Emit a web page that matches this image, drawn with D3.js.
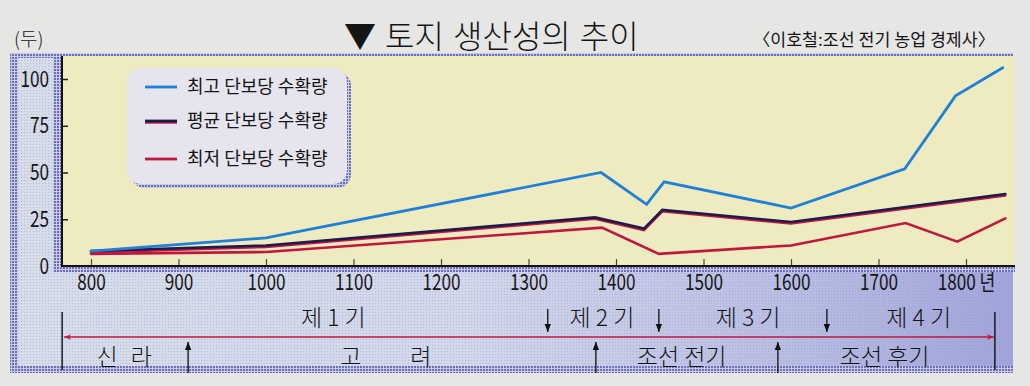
<!DOCTYPE html>
<html>
<head>
<meta charset="utf-8">
<script src="https://cdn.jsdelivr.net/npm/d3@7"></script>
<style>
	body { margin: 0; background: #e6e6e4; }
	svg { display: block; }
	text { font-family: 'Noto Sans CJK KR', 'Noto Sans', sans-serif; fill: #151515; }
</style>
</head>
<body>
<div id="chart"></div>
<script>
// ---- data ----
var highYears = [800, 1000, 1383, 1435, 1455, 1600, 1730, 1788, 1842];
var highValues = [8, 15, 50, 33, 45, 31, 52, 91, 106];
var avgYears = [800, 1000, 1376, 1432, 1453, 1600, 1845];
var avgValues = [8, 11, 26, 20, 30, 23.5, 38.5];
var lowYears = [800, 1000, 1384, 1449, 1600, 1731, 1790, 1845];
var lowValues = [6.5, 7.5, 20.5, 6.5, 11, 23, 13, 25.5];
var seriesNames = ['최고 단보당 수확량', '평균 단보당 수확량', '최저 단보당 수확량'];

var yTicks = [0, 25, 50, 75, 100];
var xTicks = [800, 900, 1000, 1100, 1200, 1300, 1400, 1500, 1600, 1700, 1800];

// timeline under the axis
var periodNames = ['제 1 기', '제 2 기', '제 3 기', '제 4 기'];
var periodCenters = [1077, 1384, 1551, 1746];
var periodBreaks = [1322, 1449, 1641];
var dynastyNames = ['신 라', '고', '려', '조선 전기', '조선 후기'];
var dynastyCenters = [838, 1097, 1177, 1475, 1707];
var dynastyBreaks = [911, 1377, 1585];
var timelineSpan = [767, 1833];

var title = '▼ 토지 생산성의 추이';
var source = '〈이호철:조선 전기 농업 경제사〉';
var unitLabel = '(두)';
var yearUnit = '년';

// ---- setup ----
var width = 1030, height = 386;
var blue = '#1f80d8', navy = '#1a1c4e', red = '#c3163f';

var x = d3.scaleLinear().domain([800, 1800]).range([91, 966]);
var y = d3.scaleLinear().domain([0, 100]).range([266, 79]);

var svg = d3.select('#chart').append('svg')
	.attr('width', width).attr('height', height);

var defs = svg.append('defs');
var dots = defs.append('pattern')
	.attr('id', 'dots').attr('patternUnits', 'userSpaceOnUse')
	.attr('width', 3).attr('height', 3);
dots.append('rect').attr('width', 3).attr('height', 3).attr('fill', '#c8cae8');
dots.append('rect').attr('width', 2).attr('height', 2).attr('fill', '#6b6fb6');

var fineDots = defs.append('pattern')
	.attr('id', 'fineDots').attr('patternUnits', 'userSpaceOnUse')
	.attr('width', 3).attr('height', 3);
fineDots.append('rect').attr('width', 1).attr('height', 1).attr('fill', '#8f95c8').attr('opacity', 0.45);

var grad = defs.append('linearGradient').attr('id', 'inner');
grad.append('stop').attr('offset', '0').attr('stop-color', '#d7dce9');
grad.append('stop').attr('offset', '0.45').attr('stop-color', '#d2d7ea');
grad.append('stop').attr('offset', '0.8').attr('stop-color', '#b6bbe2');
grad.append('stop').attr('offset', '1').attr('stop-color', '#a0a4d9');

var arrowBlack = defs.append('marker')
	.attr('id', 'ab').attr('viewBox', '0 0 10 10')
	.attr('refX', 10).attr('refY', 5)
	.attr('markerWidth', 8).attr('markerHeight', 8)
	.attr('markerUnits', 'userSpaceOnUse')
	.attr('orient', 'auto');
arrowBlack.append('path').attr('d', 'M0,1 L10,5 L0,9 Z').attr('fill', '#111');

var arrowRed = defs.append('marker')
	.attr('id', 'ar').attr('viewBox', '0 0 10 10')
	.attr('refX', 10).attr('refY', 5)
	.attr('markerWidth', 11).attr('markerHeight', 7)
	.attr('markerUnits', 'userSpaceOnUse')
	.attr('orient', 'auto-start-reverse');
arrowRed.append('path').attr('d', 'M0,1 L10,5 L0,9 L3,5 Z').attr('fill', red);

// ---- frame ----
svg.append('rect').attr('x', 10).attr('y', 53).attr('width', 1003).attr('height', 320)
	.attr('fill', 'url(#dots)');
svg.append('rect').attr('x', 18).attr('y', 58).attr('width', 995).attr('height', 308)
	.attr('fill', 'url(#inner)');
svg.append('rect').attr('x', 18).attr('y', 58).attr('width', 995).attr('height', 308)
	.attr('fill', 'url(#fineDots)');
// shadow band round the plot panel
svg.append('rect').attr('x', 53).attr('y', 56).attr('width', 962).attr('height', 216)
	.attr('fill', 'url(#dots)');
svg.append('rect').attr('x', 62).attr('y', 56).attr('width', 953).attr('height', 210)
	.attr('fill', '#efebc1');

// ---- titles ----
svg.append('text').attr('x', 344).attr('y', 48)
	.attr('font-size', 32).attr('font-weight', 300)
	.attr('word-spacing', 2).text(title);
svg.append('text').attr('x', 753).attr('y', 46)
	.attr('font-size', 17).attr('textLength', 242).attr('lengthAdjust', 'spacingAndGlyphs')
	.text(source);
svg.append('text').attr('x', 14).attr('y', 46)
	.attr('font-size', 19).attr('font-weight', 300).text(unitLabel);

// ---- axes ----
function narrow(sel, shift) {
	sel.selectAll('.tick text')
		.attr('font-family', "'Liberation Sans', sans-serif")
		.attr('font-size', 22)
		.attr('fill', '#151515')
		.attr('transform', 'scale(0.78,1)');
	if (shift) sel.selectAll('.tick text').attr('x', shift / 0.78);
}

var yAxis = svg.append('g')
	.attr('transform', 'translate(62,0)')
	.call(d3.axisLeft(y).tickValues(yTicks).tickSize(-6).tickPadding(13));
yAxis.select('.domain').remove();
yAxis.selectAll('.tick line').attr('stroke', '#222').attr('stroke-width', 1.5)
	.filter(d => d === 0).remove();
narrow(yAxis, -13);

var xAxis = svg.append('g')
	.attr('transform', 'translate(0,266)')
	.call(d3.axisBottom(x).tickValues(xTicks).tickSize(-7).tickPadding(8)
		.tickFormat(d => d === 1800 ? d + ' ' + yearUnit : d));
xAxis.select('.domain').remove();
xAxis.selectAll('.tick line').attr('stroke', '#444').attr('stroke-width', 1.2);
narrow(xAxis);

svg.append('path')
	.attr('d', 'M62,56 V266 H1015')
	.attr('fill', 'none').attr('stroke', '#111').attr('stroke-width', 2);

// ---- lines ----
function points(years, values) {
	return years.map((yr, i) => [yr, values[i]]);
}
var line = d3.line().x(d => x(d[0])).y(d => y(d[1]));

var plot = svg.append('g').attr('fill', 'none')
	.attr('stroke-linejoin', 'miter').attr('stroke-linecap', 'round');
plot.append('path').attr('d', line(points(lowYears, lowValues)))
	.attr('stroke', red).attr('stroke-width', 2.6);
plot.append('path').attr('d', line(points(avgYears, avgValues)))
	.attr('transform', 'translate(0,1.5)')
	.attr('stroke', red).attr('stroke-width', 2.4);
plot.append('path').attr('d', line(points(avgYears, avgValues)))
	.attr('stroke', navy).attr('stroke-width', 2.6);
plot.append('path').attr('d', line(points(highYears, highValues)))
	.attr('stroke', blue).attr('stroke-width', 2.8);

// ---- legend ----
var legend = svg.append('g').attr('transform', 'translate(127,68)');
legend.append('rect').attr('x', 4).attr('y', 4).attr('width', 220).attr('height', 116)
	.attr('rx', 14).attr('fill', 'url(#dots)');
legend.append('rect').attr('width', 220).attr('height', 116)
	.attr('rx', 14).attr('fill', '#e6e5ee');

var legendRows = [
	{ name: seriesNames[0], color: blue, shadow: false, y: 19 },
	{ name: seriesNames[1], color: navy, shadow: true, y: 53 },
	{ name: seriesNames[2], color: red, shadow: false, y: 91 }
];
var rows = legend.selectAll('.row').data(legendRows).enter().append('g')
	.attr('transform', d => 'translate(0,' + d.y + ')');
rows.filter(d => d.shadow).append('line')
	.attr('x1', 18).attr('x2', 50).attr('y1', 1.5).attr('y2', 1.5)
	.attr('stroke', red).attr('stroke-width', 2.4);
rows.append('line')
	.attr('x1', 18).attr('x2', 50)
	.attr('stroke', d => d.color).attr('stroke-width', 2.8);
rows.append('text').attr('x', 60).attr('dy', '0.36em')
	.attr('font-size', 18).text(d => d.name);

// ---- timeline ----
var tl = svg.append('g');
tl.selectAll('.edge').data(timelineSpan).enter().append('line')
	.attr('x1', d => x(d)).attr('x2', d => x(d))
	.attr('y1', 312).attr('y2', 370)
	.attr('stroke', '#111').attr('stroke-width', 1.4);
tl.append('line')
	.attr('x1', x(timelineSpan[0]) + 2).attr('x2', x(timelineSpan[1]) - 1)
	.attr('y1', 337).attr('y2', 337)
	.attr('stroke', red).attr('stroke-width', 1.3)
	.attr('marker-start', 'url(#ar)').attr('marker-end', 'url(#ar)');

tl.selectAll('.down').data(periodBreaks).enter().append('line')
	.attr('x1', d => x(d)).attr('x2', d => x(d))
	.attr('y1', 309).attr('y2', 332)
	.attr('stroke', '#111').attr('stroke-width', 1.3)
	.attr('marker-end', 'url(#ab)');
tl.selectAll('.up').data(dynastyBreaks).enter().append('line')
	.attr('x1', d => x(d)).attr('x2', d => x(d))
	.attr('y1', 373).attr('y2', 342)
	.attr('stroke', '#111').attr('stroke-width', 1.3)
	.attr('marker-end', 'url(#ab)');

tl.selectAll('.period').data(periodNames).enter().append('text')
	.attr('x', (d, i) => x(periodCenters[i])).attr('y', 318).attr('dy', '0.35em')
	.attr('text-anchor', 'middle').attr('font-size', 23).attr('font-weight', 300)
	.text(d => d);
tl.selectAll('.dynasty').data(dynastyNames).enter().append('text')
	.attr('x', (d, i) => x(dynastyCenters[i])).attr('y', 357).attr('dy', '0.35em')
	.attr('text-anchor', 'middle').attr('font-size', 23).attr('font-weight', 300)
	.attr('word-spacing', (d, i) => i === 0 ? 8 : 0)
	.text(d => d);
</script>
</body>
</html>
